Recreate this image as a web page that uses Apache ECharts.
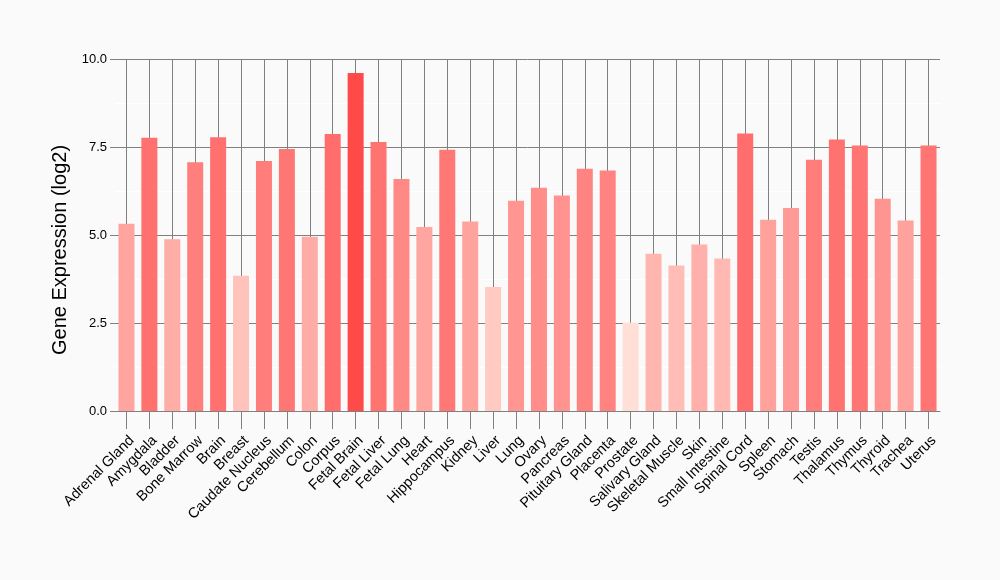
<!DOCTYPE html>
<html>
<head>
<meta charset="utf-8">
<script src="https://cdn.jsdelivr.net/npm/echarts@6/dist/echarts.min.js"></script>
<style>
html,body{margin:0;padding:0;background:#fafafa;}
#chart{width:1000px;height:580px;}
</style>
</head>
<body>
<div id="chart"></div>
<script>
const categories = ["Adrenal Gland","Amygdala","Bladder","Bone Marrow","Brain","Breast","Caudate Nucleus","Cerebellum","Colon","Corpus","Fetal Brain","Fetal Liver","Fetal Lung","Heart","Hippocampus","Kidney","Liver","Lung","Ovary","Pancreas","Pituitary Gland","Placenta","Prostate","Salivary Gland","Skeletal Muscle","Skin","Small Intestine","Spinal Cord","Spleen","Stomach","Testis","Thalamus","Thymus","Thyroid","Trachea","Uterus"];
const values = [5.32,7.76,4.88,7.07,7.78,3.84,7.10,7.44,4.95,7.87,9.60,7.64,6.59,5.23,7.42,5.38,3.52,5.97,6.34,6.12,6.88,6.83,2.51,4.47,4.13,4.73,4.33,7.88,5.43,5.77,7.14,7.71,7.54,6.03,5.41,7.54];
const yTicks = [0, 2.5, 5, 7.5, 10];
const axisTitle = "Gene Expression (log2)";

const chart = echarts.init(document.getElementById('chart'), null, {renderer:'canvas'});
const FONT = 'Liberation Sans, Arial, sans-serif';
const GRID_COLOR = '#808080';
chart.setOption({
  backgroundColor: '#fafafa',
  animation: false,
  grid: {left: 115, right: 60, top: 59, bottom: 169, containLabel: false},
  visualMap: {
    show: false,
    type: 'continuous',
    min: 2.5, max: 9.6,
    dimension: 1,
    seriesIndex: 0,
    inRange: {color: ['#ffdfd6', '#ff4a4a']}
  },
  xAxis: {
    type: 'category',
    data: categories,
    axisLine: {show: true, lineStyle: {color: GRID_COLOR, width: 1}},
    axisTick: {show: true, alignWithLabel: true, length: 18, lineStyle: {color: GRID_COLOR}},
    splitLine: {show: false},
    axisLabel: {rotate: 45, interval: 0, margin: 22, verticalAlign: 'top', color: '#000', fontSize: 14.5, fontFamily: FONT}
  },
  yAxis: {
    type: 'value',
    min: yTicks[0], max: yTicks[yTicks.length-1], interval: 2.5,
    name: axisTitle,
    nameLocation: 'middle',
    nameGap: 37,
    nameTextStyle: {color: '#000', fontSize: 20, fontFamily: FONT, padding: [0, 30, 0, 0]},
    axisLine: {show: false},
    axisTick: {show: true, length: 5, lineStyle: {color: GRID_COLOR}},
    axisLabel: {color: '#000', fontSize: 13, fontFamily: FONT, margin: 8,
      formatter: v => v.toFixed(1)},
    splitLine: {show: true, lineStyle: {color: GRID_COLOR, width: 1}},
    minorTick: {show: false, splitNumber: 2},
    minorSplitLine: {show: true, lineStyle: {color: '#ffffff', width: 1}}
  },
  series: [{
    type: 'bar',
    data: values,
    barWidth: 16,
    z: 3
  }, {
    type: 'line',
    data: categories.map(() => null),
    z: 1,
    silent: true,
    markLine: {
      silent: true,
      z: 1,
      symbol: 'none',
      label: {show: false},
      lineStyle: {color: GRID_COLOR, width: 1, type: 'solid'},
      emphasis: {disabled: true},
      animation: false,
      data: categories.map(c => ({xAxis: c}))
    }
  }]
});
</script>
</body>
</html>
